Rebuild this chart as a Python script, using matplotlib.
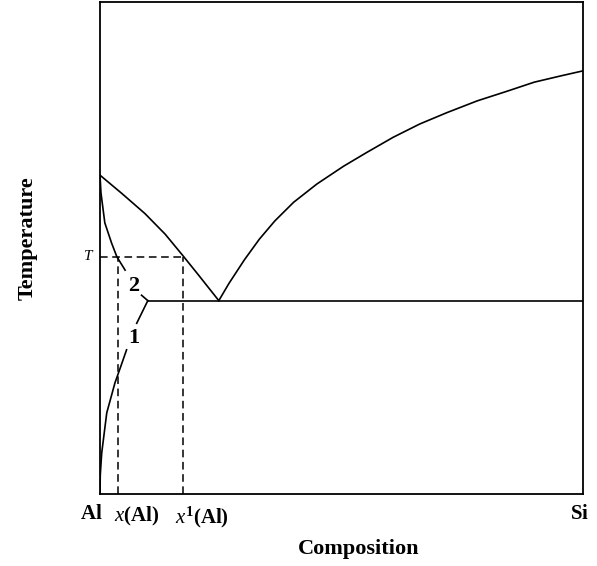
import numpy as np
import matplotlib.pyplot as plt

plt.rcParams["font.family"] = ["Liberation Serif", "DejaVu Serif"]
plt.rcParams["mathtext.fontset"] = "custom"
plt.rcParams["mathtext.rm"] = "Liberation Serif:bold"
plt.rcParams["mathtext.it"] = "Liberation Serif:italic"

# composition (0 = Al, 100 = Si) and temperature, arbitrary units
liq_al_x = [0, 4.5, 9.3, 13.5, 17.2, 20.4, 24.6]
liq_al_y = [64.8, 61.1, 57.0, 52.8, 48.4, 44.5, 39.3]

liq_si_x = [24.6, 26.7, 29.9, 33.0, 36.2, 40.1, 44.9, 50.4, 55.2, 60.7,
            66.2, 71.8, 78.1, 84.4, 89.9, 95.5, 100]
liq_si_y = [39.3, 42.8, 47.6, 51.8, 55.5, 59.3, 63.0, 66.6, 69.4, 72.5,
            75.2, 77.5, 79.9, 81.9, 83.7, 85.0, 86.0]

eut_x = [9.9, 100]
eut_y = [39.3, 39.3]

solidus_x = [0, 0.2, 1.0, 2.4, 3.5, 5.2]
solidus_y = [64.8, 61.2, 55.1, 51.0, 48.2, 45.5]
solidus_end_x = [8.6, 9.9]
solidus_end_y = [40.4, 39.3]

solvus_x = [0, 0.06, 0.35, 1.4, 3.1, 4.4, 5.5]
solvus_y = [0.2, 3.9, 8.3, 16.5, 22.6, 26.2, 29.3]
solvus_end_x = [7.6, 9.9]
solvus_end_y = [34.7, 39.3]

T_level = 48.2
x_sol = 3.7
x_liq = 17.1

tick_x = [-1.8, 3.0, 15.6, 97.4]
tick_text = [r"$\mathrm{Al}$", r"$x\mathrm{(Al)}$", r"$x^1\mathrm{(Al)}$", r"$\mathrm{Si}$"]
tick_ha = ["center", "left", "left", "left"]

fig = plt.figure(figsize=(5.97, 5.66), dpi=100)
ax = fig.add_axes([0.1675, 0.1272, 0.809, 0.8693])

lw = 1.2
ax.plot(liq_al_x, liq_al_y, color="black", lw=lw)
ax.plot(liq_si_x, liq_si_y, color="black", lw=lw)
ax.plot(eut_x, eut_y, color="black", lw=lw)
ax.plot(solidus_x, solidus_y, color="black", lw=lw)
ax.plot(solidus_end_x, solidus_end_y, color="black", lw=lw)
ax.plot(solvus_x, solvus_y, color="black", lw=lw)
ax.plot(solvus_end_x, solvus_end_y, color="black", lw=lw)

dash = (0, (5, 3))
ax.plot([0, x_liq], [T_level, T_level], color="black", lw=1.1, linestyle=dash)
ax.plot([x_sol, x_sol], [0, T_level], color="black", lw=1.1, linestyle=dash)
ax.plot([x_liq, x_liq], [0, T_level], color="black", lw=1.1, linestyle=dash)

ax.text(6.9, 42.2, "2", fontsize=16, fontweight="bold", ha="center", va="center")
ax.text(7.1, 31.8, "1", fontsize=16, fontweight="bold", ha="center", va="center")
ax.text(-1.5, T_level, "T", fontsize=11, fontstyle="italic", ha="right", va="center")

ax.set_xlim(0, 100)
ax.set_ylim(0, 100)
ax.set_xticks([])
ax.set_yticks([])
for s in ax.spines.values():
    s.set_linewidth(1.3)

for x, t, h in zip(tick_x, tick_text, tick_ha):
    ax.text(x, -2.2, t, fontsize=15, ha=h, va="top", clip_on=False)

ax.text(0.535, -0.092, "Composition", transform=ax.transAxes, fontsize=16,
        fontweight="bold", ha="center", va="top")
ax.text(-0.15, 0.52, "Temperature", transform=ax.transAxes, fontsize=16,
        fontweight="bold", ha="center", va="center", rotation=90)

plt.savefig("out.png", dpi=100)
